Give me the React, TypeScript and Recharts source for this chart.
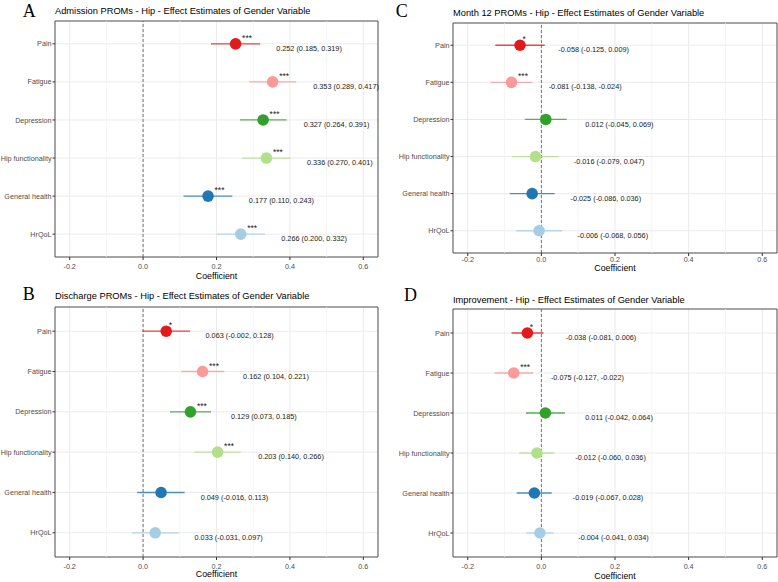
import React from 'react'
import {
  ScatterChart,
  Scatter,
  XAxis,
  YAxis,
  CartesianGrid,
  ReferenceLine,
  ReferenceArea,
} from 'recharts'

const outcomes = ['Pain', 'Fatigue', 'Depression', 'Hip functionality', 'General health', 'HrQoL']
const colors = ['#e31a1c', '#fb9a99', '#33a02c', '#b2df8a', '#1f78b4', '#a6cee3']

const xTicks = [-0.2, 0, 0.2, 0.4, 0.6]
const minorTicks = [-0.1, 0.1, 0.3, 0.5]
const rowTicks = [0, 1, 2, 3, 4, 5]

// A - admission
const admissionEst = [0.252, 0.353, 0.327, 0.336, 0.177, 0.266]
const admissionLow = [0.185, 0.289, 0.264, 0.27, 0.11, 0.2]
const admissionHigh = [0.319, 0.417, 0.391, 0.401, 0.243, 0.332]
const admissionSig = ['***', '***', '***', '***', '***', '***']

// B - discharge
const dischargeEst = [0.063, 0.162, 0.129, 0.203, 0.049, 0.033]
const dischargeLow = [-0.002, 0.104, 0.073, 0.14, -0.016, -0.031]
const dischargeHigh = [0.128, 0.221, 0.185, 0.266, 0.113, 0.097]
const dischargeSig = ['*', '***', '***', '***', '', '']

// C - month 12
const month12Est = [-0.058, -0.081, 0.012, -0.016, -0.025, -0.006]
const month12Low = [-0.125, -0.138, -0.045, -0.079, -0.086, -0.068]
const month12High = [0.009, -0.024, 0.069, 0.047, 0.036, 0.056]
const month12Sig = ['*', '***', '', '', '', '']

// D - improvement
const improvementEst = [-0.038, -0.075, 0.011, -0.012, -0.019, -0.004]
const improvementLow = [-0.081, -0.127, -0.042, -0.06, -0.067, -0.041]
const improvementHigh = [0.006, -0.022, 0.064, 0.036, 0.028, 0.034]
const improvementSig = ['*', '***', '', '', '', '']

const SANS = '"Liberation Sans", Arial, Helvetica, sans-serif'
const SERIF = '"Liberation Serif", "Times New Roman", serif'

const fmt = (v: number) => v.toFixed(3)

const PointShape = (props: any) => {
  const { cx, cy, payload } = props
  const sig: string = payload.sig
  return (
    <g>
      <circle cx={cx} cy={cy} r={5.8} fill={payload.color} />
      {sig && (
        <text
          x={cx + (sig.length > 1 ? 6.5 : 2.5)}
          y={cy - 3}
          fontSize={8.5}
          fontFamily={SANS}
          fill="#1a1a1a"
        >
          {sig}
        </text>
      )}
    </g>
  )
}

const LabelShape = (props: any) => {
  const { cx, cy, payload } = props
  return (
    <text x={cx} y={cy + 7.1} textAnchor="middle" fontSize={7.3} fontFamily={SANS} fill="#1a1a1a">
      {payload.text}
    </text>
  )
}

// plain text tick so long names never wrap
const RowTick = (props: any) => {
  const { x, y, payload } = props
  return (
    <text x={x} y={y} dy="0.355em" textAnchor="end" fontSize={7.2} fontFamily={SANS} fill="#4d4d4d">
      {outcomes[payload.value]}
    </text>
  )
}

const CoefTick = (props: any) => {
  const { x, y, payload } = props
  return (
    <text x={x} y={y} dy="0.71em" textAnchor="middle" fontSize={7.2} fontFamily={SANS} fill="#4d4d4d">
      {Number(payload.value).toFixed(1)}
    </text>
  )
}

interface Box { x: number; y: number; w: number; h: number }
interface Plot { l: number; t: number; r: number; b: number }

interface PanelProps {
  letter: string
  title: string
  est: number[]
  low: number[]
  high: number[]
  sig: string[]
  box: Box
  plot: Plot
  tickGap: number
  titleY: number
  coefY: number
  letterX: number
  letterY: number
}

function Panel({ letter, title, est, low, high, sig, box, plot, tickGap, titleY, coefY, letterX, letterY }: PanelProps) {
  const yw = plot.l - box.x
  const xh = 20
  const margin = {
    top: plot.t - box.y,
    left: 0,
    right: box.x + box.w - plot.r,
    bottom: box.y + box.h - plot.b - xh,
  }

  const points = outcomes.map((name, i) => ({
    name,
    row: i,
    x: est[i],
    sig: sig[i],
    color: colors[i],
  }))
  const labels = outcomes.map((name, i) => ({
    name,
    row: i,
    x: est[i] + 0.2,
    text: `${fmt(est[i])} (${fmt(low[i])}, ${fmt(high[i])})`,
  }))

  return (
    <>
      <div
        style={{
          position: 'absolute',
          left: letterX,
          top: letterY,
          fontFamily: SERIF,
          fontSize: 18,
          lineHeight: 1,
          color: '#000',
        }}
      >
        {letter}
      </div>
      <div
        style={{
          position: 'absolute',
          left: plot.l,
          top: titleY - 5.1,
          fontFamily: SANS,
          fontSize: 9.3,
          lineHeight: 1,
          whiteSpace: 'nowrap',
          color: '#000',
        }}
      >
        {title}
      </div>
      <div style={{ position: 'absolute', left: box.x, top: box.y }}>
        <ScatterChart width={box.w} height={box.h} margin={margin}>
          <CartesianGrid stroke="#ebebeb" strokeWidth={1} />
          {minorTicks.map((t) => (
            <ReferenceLine key={t} x={t} stroke="#f0f0f0" strokeWidth={0.7} />
          ))}
          <XAxis
            type="number"
            dataKey="x"
            domain={[-0.24, 0.64]}
            ticks={xTicks}
            interval={0}
            axisLine={false}
            tickLine={{ stroke: '#333333' }}
            tickSize={3}
            tickMargin={tickGap - 3}
            height={xh}
            tick={<CoefTick />}
          />
          <YAxis
            type="number"
            dataKey="row"
            domain={[-0.6, 5.6]}
            reversed
            ticks={rowTicks}
            interval={0}
            axisLine={false}
            tickLine={{ stroke: '#333333' }}
            tickSize={2.5}
            tickMargin={1}
            width={yw}
            tick={<RowTick />}
          />
          <ReferenceLine x={0} stroke="#555555" strokeDasharray="3 2" strokeWidth={0.8} />
          {outcomes.map((name, i) => (
            <ReferenceLine
              key={name}
              segment={[
                { x: low[i], y: i },
                { x: high[i], y: i },
              ]}
              stroke={colors[i]}
              strokeOpacity={0.8}
              strokeWidth={1.3}
            />
          ))}
          <Scatter data={labels} shape={LabelShape} isAnimationActive={false} />
          <Scatter data={points} shape={PointShape} isAnimationActive={false} />
          <ReferenceArea
            x1={-0.24}
            x2={0.64}
            y1={-0.6}
            y2={5.6}
            fill="none"
            fillOpacity={0}
            stroke="#555555"
            strokeWidth={1}
            strokeOpacity={1}
          />
        </ScatterChart>
      </div>
      <div
        style={{
          position: 'absolute',
          left: (plot.l + plot.r) / 2 - 60,
          width: 120,
          top: coefY - 4.9,
          textAlign: 'center',
          fontFamily: SANS,
          fontSize: 8.8,
          lineHeight: 1,
          color: '#000',
        }}
      >
        Coefficient
      </div>
    </>
  )
}

export default function App() {
  return (
    <div
      style={{
        position: 'absolute',
        left: 0,
        top: 0,
        width: 778,
        height: 582,
        background: '#fff',
        overflow: 'hidden',
      }}
    >
      <Panel
        letter="A"
        title="Admission PROMs - Hip - Effect Estimates of Gender Variable"
        est={admissionEst}
        low={admissionLow}
        high={admissionHigh}
        sig={admissionSig}
        box={{ x: 0, y: 0, w: 389, h: 282 }}
        plot={{ l: 55, t: 21, r: 378, b: 257 }}
        tickGap={7}
        titleY={12.3}
        coefY={276.7}
        letterX={22.7}
        letterY={1.9}
      />
      <Panel
        letter="B"
        title="Discharge PROMs - Hip - Effect Estimates of Gender Variable"
        est={dischargeEst}
        low={dischargeLow}
        high={dischargeHigh}
        sig={dischargeSig}
        box={{ x: 0, y: 282, w: 389, h: 300 }}
        plot={{ l: 55, t: 307, r: 378, b: 557 }}
        tickGap={6.5}
        titleY={296.7}
        coefY={575}
        letterX={22.7}
        letterY={285}
      />
      <Panel
        letter="C"
        title="Month 12 PROMs - Hip - Effect Estimates of Gender Variable"
        est={month12Est}
        low={month12Low}
        high={month12High}
        sig={month12Sig}
        box={{ x: 389, y: 0, w: 389, h: 282 }}
        plot={{ l: 453, t: 23, r: 777, b: 253 }}
        tickGap={3.8}
        titleY={14}
        coefY={269.3}
        letterX={395.7}
        letterY={2}
      />
      <Panel
        letter="D"
        title="Improvement - Hip - Effect Estimates of Gender Variable"
        est={improvementEst}
        low={improvementLow}
        high={improvementHigh}
        sig={improvementSig}
        box={{ x: 389, y: 282, w: 389, h: 300 }}
        plot={{ l: 453, t: 309, r: 777, b: 557 }}
        tickGap={6.9}
        titleY={300.7}
        coefY={576.7}
        letterX={404}
        letterY={285.6}
      />
    </div>
  )
}
